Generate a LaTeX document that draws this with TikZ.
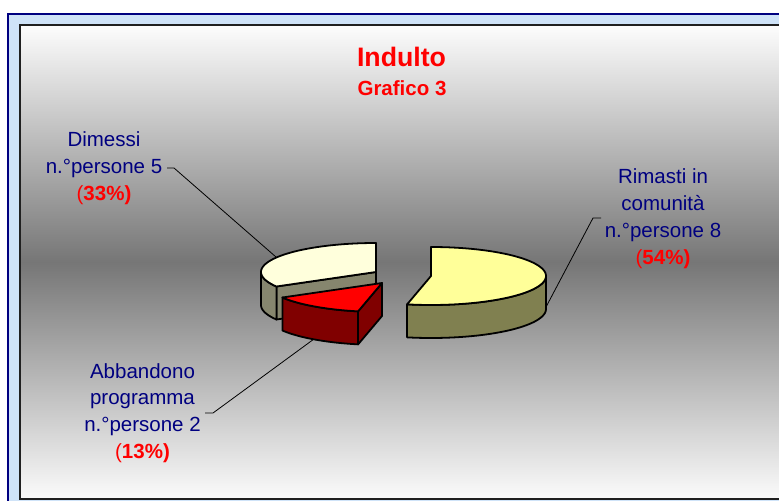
\documentclass[tikz,border=0pt]{standalone}
\usepackage{fontspec}
\setmainfont{Liberation Sans}
\definecolor{navytxt}{HTML}{000080}
\definecolor{pctred}{HTML}{FF0000}
\definecolor{bandblue}{HTML}{CFE3F8}
\definecolor{frameblue}{HTML}{000080}
\definecolor{boxline}{HTML}{202020}
\definecolor{bgtop}{HTML}{FDFDFD}
\definecolor{bgmid}{HTML}{767676}
\definecolor{bgbot}{HTML}{FBFBFB}
\definecolor{rimtop}{HTML}{FFFF99}
\definecolor{rimside}{HTML}{808050}
\definecolor{dimtop}{HTML}{FFFFDC}
\definecolor{dimside}{HTML}{86866E}
\definecolor{abbtop}{HTML}{FF0000}
\definecolor{abbside}{HTML}{800000}
\newcommand\pctlbl[1]{\textcolor{pctred}{(\textbf{#1\%)}}}
\begin{document}
\begin{tikzpicture}[x=1bp,y=-1bp,
  lbl/.style={font=\fontsize{20.5bp}{26.8bp}\selectfont, text=navytxt, align=center, inner sep=0pt, anchor=base},
  ttl/.style={font=\fontsize{26.7bp}{30bp}\selectfont\bfseries, text=pctred, inner sep=0pt, anchor=base},
  subttl/.style={font=\fontsize{20.5bp}{24bp}\selectfont\bfseries, text=pctred, inner sep=0pt, anchor=base},
  slice/.style={draw=black, line width=1.8pt, line join=round},
  leader/.style={draw=black, line width=0.8pt}
]
\useasboundingbox (0,0) rectangle (779,501);
% slide frame
\fill[bandblue] (8,14) rectangle (785,505);
\draw[frameblue, line width=2pt] (8,505) -- (8,14) -- (785,14);
% chart area
\shade[top color=bgtop, bottom color=bgbot, middle color=bgmid] (20,25) rectangle (790,499);
\draw[boxline, line width=1.5pt] (20,25) rectangle (790,499);

% leaders
\coordinate (dimA) at (167,168); \coordinate (dimB) at (174,168); \coordinate (dimC) at (276,257);
\coordinate (rimA) at (601,218); \coordinate (rimB) at (593,218); \coordinate (rimC) at (546,307);
\coordinate (abbA) at (205,413); \coordinate (abbB) at (213,413); \coordinate (abbC) at (314,339);
\draw[leader] (dimA) -- (dimB) -- (dimC);
\draw[leader] (rimA) -- (rimB) -- (rimC);
\draw[leader] (abbA) -- (abbB) -- (abbC);

% Dimessi slice
\path[slice, fill=dimside] (376,272) -- (276.41,286.5) -- (276.41,319.5) -- (376,305) -- cycle;
\path[slice, fill=dimside] plot[domain=150:180,samples=20] ({376+115*cos(\x)},{272+29*sin(\x)})
  -- plot[domain=180:150,samples=20] ({376+115*cos(\x)},{305+29*sin(\x)}) -- cycle;
\path[slice, fill=dimtop] (376,272) -- plot[domain=150:270,samples=60] ({376+115*cos(\x)},{272+29*sin(\x)}) -- cycle;

% Abbandono slice
\path[slice, fill=abbside] (382,283) -- (358.09,311.37) -- (358.09,344.37) -- (382,316) -- cycle;
\path[slice, fill=abbside] plot[domain=102:150,samples=30] ({382+115*cos(\x)},{283+29*sin(\x)})
  -- plot[domain=150:102,samples=30] ({382+115*cos(\x)},{316+29*sin(\x)}) -- cycle;
\path[slice, fill=abbtop] (382,283) -- plot[domain=102:150,samples=30] ({382+115*cos(\x)},{283+29*sin(\x)}) -- cycle;

% Rimasti slice
\path[slice, fill=rimside] plot[domain=0:102,samples=50] ({431+115*cos(\x)},{276+29*sin(\x)})
  -- plot[domain=102:0,samples=50] ({431+115*cos(\x)},{309+29*sin(\x)}) -- cycle;
\path[slice, fill=rimtop] (431,276) -- plot[domain=-90:102,samples=90] ({431+115*cos(\x)},{276+29*sin(\x)}) -- cycle;

% texts
\node[ttl] (title) at (401.5,66.7) {Indulto};
\node[subttl] (subtitle) at (402,95.3) {Grafico 3};
\node[lbl] (dimlab) at (104,200.3) {Dimessi\\n.°persone 5\\\pctlbl{33}};
\node[lbl] (rimlab) at (663,264.4) {Rimasti in\\comunità\\n.°persone 8\\\pctlbl{54}};
\node[lbl] (abblab) at (142.5,458.4) {Abbandono\\programma\\n.°persone 2\\\pctlbl{13}};
\end{tikzpicture}
\end{document}
